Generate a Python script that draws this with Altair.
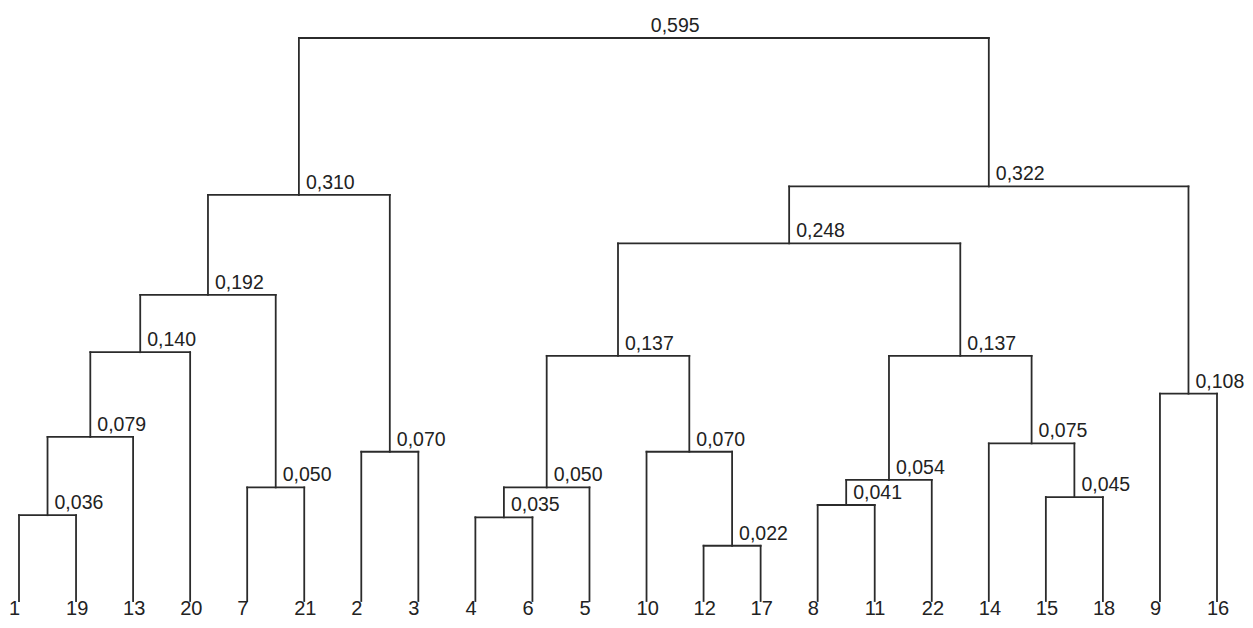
import altair as alt
import pandas as pd

# Leaves in dendrogram order
leaf_labels = ["1", "19", "13", "20", "7", "21", "2", "3", "4", "6", "5",
               "10", "12", "17", "8", "11", "22", "14", "15", "18", "9", "16"]

# Internal nodes: name, left child, right child, merge height
node_names = ["A", "B", "C", "D", "E", "F", "G", "H", "I", "J", "K",
              "L", "M", "N", "O", "P", "Q", "R", "S", "T", "U"]
left_child = ["1", "A", "B", "7", "C", "2", "E", "4", "H", "12", "10",
              "I", "8", "M", "15", "14", "N", "L", "9", "R", "G"]
right_child = ["19", "13", "20", "21", "D", "3", "F", "6", "5", "17", "J",
               "K", "11", "22", "18", "O", "P", "Q", "16", "S", "T"]
heights = [0.036, 0.079, 0.140, 0.050, 0.192, 0.070, 0.310, 0.035, 0.050, 0.022, 0.070,
           0.137, 0.041, 0.054, 0.045, 0.075, 0.137, 0.248, 0.108, 0.322, 0.595]

# Build layout from the arrays
pos = {lab: (float(i), 0.0) for i, lab in enumerate(leaf_labels)}
segs = []
nodes = []
for name, l, r, h in zip(node_names, left_child, right_child, heights):
    xl, hl = pos[l]
    xr, hr = pos[r]
    xm = (xl + xr) / 2
    pos[name] = (xm, h)
    segs.append({"x": xl, "x2": xl, "y": hl, "y2": h})
    segs.append({"x": xr, "x2": xr, "y": hr, "y2": h})
    segs.append({"x": xl, "x2": xr, "y": h, "y2": h})
    nodes.append({"x": xm, "y": h, "label": f"{h:.3f}".replace(".", ",")})

seg_df = pd.DataFrame(segs)
node_df = pd.DataFrame(nodes)
leaf_df = pd.DataFrame({"x": [float(i) for i in range(len(leaf_labels))],
                        "y": [0.0] * len(leaf_labels),
                        "label": leaf_labels})

xs = alt.Scale(domain=[0, len(leaf_labels) - 1], nice=False, zero=False)
ys = alt.Scale(type="symlog", constant=0.11, domain=[0, 0.595], nice=False)

lines = alt.Chart(seg_df).mark_rule(color="#2b2b2b", strokeWidth=1.8, strokeCap="square").encode(
    x=alt.X("x:Q", scale=xs, axis=None),
    x2="x2:Q",
    y=alt.Y("y:Q", scale=ys, axis=None),
    y2="y2:Q",
)

node_text = alt.Chart(node_df).mark_text(
    align="left", baseline="alphabetic", dx=7, dy=-6,
    font="Liberation Sans", fontSize=19.5, color="#222222"
).encode(
    x=alt.X("x:Q", scale=xs, axis=None),
    y=alt.Y("y:Q", scale=ys, axis=None),
    text="label:N",
)

leaf_text = alt.Chart(leaf_df).mark_text(
    align="left", baseline="alphabetic", dx=-10, dy=14,
    font="Liberation Sans", fontSize=20, color="#222222"
).encode(
    x=alt.X("x:Q", scale=xs, axis=None),
    y=alt.Y("y:Q", scale=ys, axis=None),
    text="label:N",
)

chart = alt.layer(lines, node_text, leaf_text).properties(
    width=1198,
    height=563,
    autosize=alt.AutoSizeParams(type="none"),
    padding={"left": 11, "top": 30, "right": 28, "bottom": 19},
    background="white",
).configure_view(stroke=None)

chart.save("out.html", embed_options={"renderer": "svg", "actions": False})
